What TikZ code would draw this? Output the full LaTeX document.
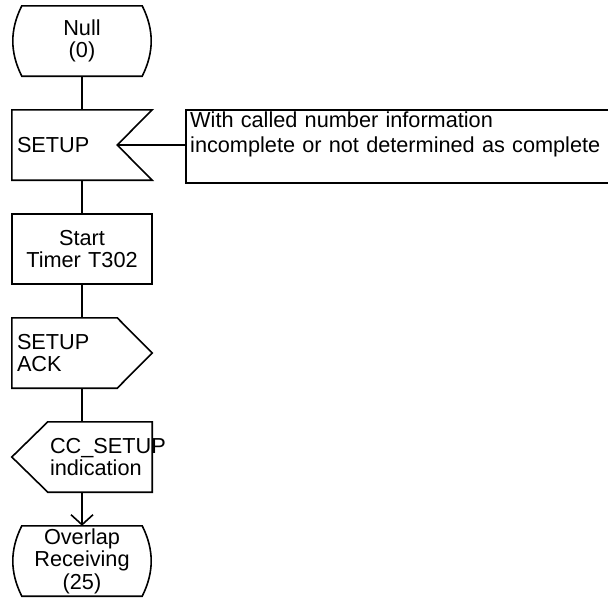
\documentclass[tikz,border=0pt]{standalone}
\usepackage{fontspec}
\setmainfont{Liberation Sans}
\usetikzlibrary{arrows.meta,calc}
\tikzset{
  sdlFont/.style={font=\fontsize{21.7}{22.5}\selectfont},
  sdlNode/.style={sdlFont, minimum width=140pt, minimum height=70pt, inner xsep=5pt, inner ysep=0pt, text width=130pt},
  sdlLine/.style={line width=1.6pt, line join=miter},
  sdlArrow/.style={sdlLine, -{Straight Barb[length=10pt,width=22pt,line width=1.6pt]}},
  noteText/.style={font=\fontsize{21.7}{25}\selectfont, align=left, inner xsep=4pt, inner ysep=2pt, text width=416pt}
}
\begin{document}
\begin{tikzpicture}[x=1pt,y=-1pt]
  \useasboundingbox (0,0) rectangle (608,600);
  \node[sdlNode, align=center] (null) at (82,41) {Null\\(0)};
  \node[sdlNode, align=left] (setup) at (82,145) {SETUP};
  \node[sdlNode, align=center, draw, sdlLine] (timer) at (82,249) {Start\\Timer T302};
  \node[sdlNode, align=left] (setupAck) at (82,353) {SETUP\\ACK};
  \node[sdlFont, minimum height=70pt, inner xsep=2pt, inner ysep=0pt, text width=100pt, align=left] (ccSetup) at (100,457) {CC\_SETUP\\indication};
  \node[sdlNode, align=center] (overlap) at (82,561) {Overlap\\Receiving\\(25)};
  \node[noteText, anchor=north west] (note) at (186,110) {With called number information\\incomplete or not determined as complete};
  \foreach \n in {null,overlap} {
    \draw[sdlLine] ([xshift=10pt]\n.north west) -- ([xshift=-10pt]\n.north east)
      .. controls +(12,24) and +(12,-24) .. ([xshift=-10pt]\n.south east)
      -- ([xshift=10pt]\n.south west)
      .. controls +(-12,-24) and +(-12,24) .. ([xshift=10pt]\n.north west) -- cycle;
  }
  \draw[sdlLine] (setup.north west) -- (setup.north east) -- ([xshift=-35pt]setup.east) -- (setup.south east) -- (setup.south west) -- cycle;
  \draw[sdlLine] (setupAck.north west) -- ([xshift=-35pt]setupAck.north east) -- (setupAck.east) -- ([xshift=-35pt]setupAck.south east) -- (setupAck.south west) -- cycle;
  \draw[sdlLine] (ccSetup.north west) -- (ccSetup.north east) -- (ccSetup.south east) -- (ccSetup.south west) -- ([xshift=-36pt]ccSetup.west) -- cycle;
  \draw[sdlLine] ([xshift=430pt]note.north west) -- (note.north west) -- ++(0,73) -- ++(430,0);
  \coordinate (setupNotch) at ([xshift=-35pt]setup.east);
  \draw[sdlLine] (setupNotch) -- (setupNotch -| note.west);
  \draw[sdlLine] (null) -- (setup);
  \draw[sdlLine] (setup) -- (timer);
  \draw[sdlLine] (timer) -- (setupAck);
  \draw[sdlLine] (setupAck.south) -- (setupAck.south |- ccSetup.north);
  \draw[sdlArrow] (overlap.north |- ccSetup.south) -- (overlap.north);
\end{tikzpicture}
\end{document}
